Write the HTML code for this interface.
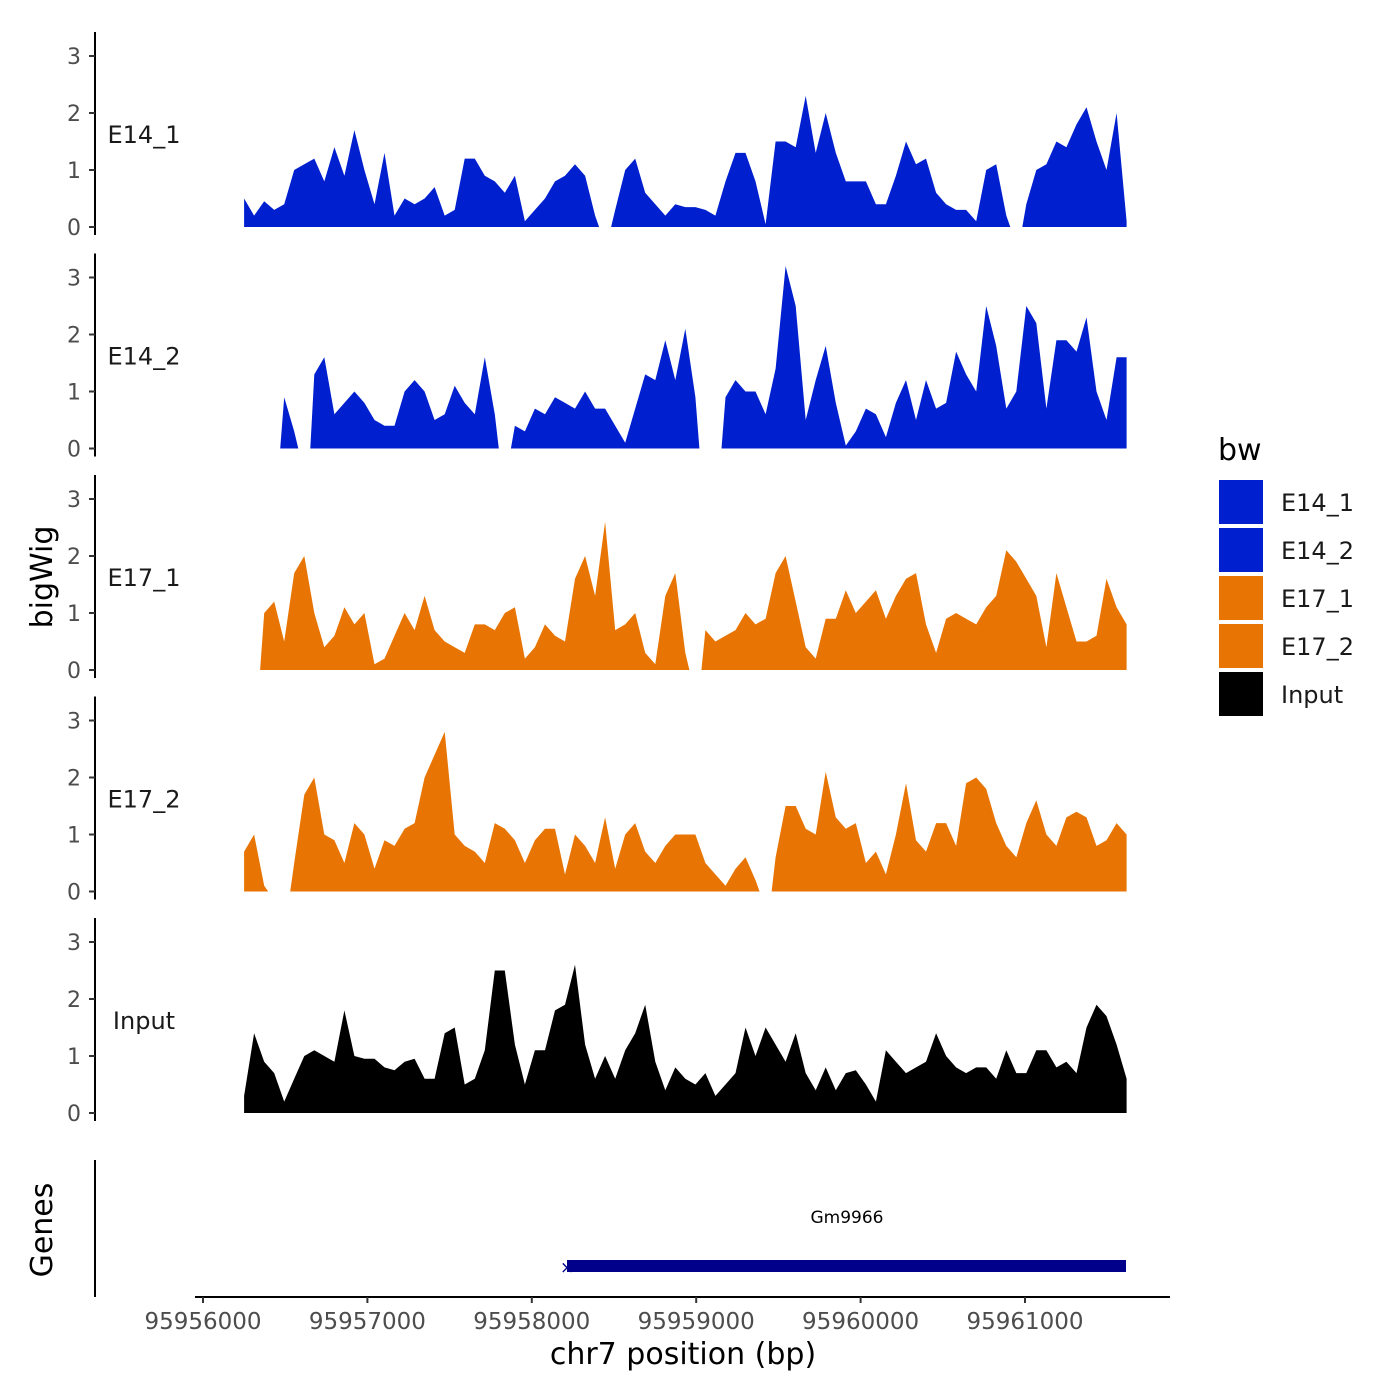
<!DOCTYPE html>
<html><head><meta charset="utf-8"><style>
body{margin:0;background:#fff;}
svg{display:block;font-family:"DejaVu Sans","Liberation Sans",sans-serif;}
</style></head><body>
<svg id="chart" width="1400" height="1400" viewBox="0 0 1400 1400">
<g id="panels"></g>
<g id="xaxis"></g>
<text x="52" y="577" font-size="30" text-anchor="middle" transform="rotate(-90 52 577)">bigWig</text>
<text x="52" y="1230" font-size="30" text-anchor="middle" transform="rotate(-90 52 1230)">Genes</text>
<line x1="95" y1="1160" x2="95" y2="1297" stroke="#000" stroke-width="2"/>
<rect x="567" y="1260" width="559" height="12" fill="#00008B"/>
<text x="560" y="1273" font-size="17" fill="#00008B">×</text>
<text x="847" y="1223" font-size="17" text-anchor="middle">Gm9966</text>
<g id="legend"></g>
</svg>
<script>
const tracks = ["E14_1","E14_2","E17_1","E17_2","Input"];
const colors = ["#0020D0","#0020D0","#E87503","#E87503","#000000"];
const startBp = 95956250;
const stepBp = 61;
const e14_1 = [0.5,0.2,0.45,0.3,0.4,1.0,1.1,1.2,0.8,1.4,0.9,1.7,1.0,0.4,1.3,0.2,0.5,0.4,0.5,0.7,0.2,0.3,1.2,1.2,0.9,0.8,0.6,0.9,0.1,0.3,0.5,0.8,0.9,1.1,0.9,0.2,null,0.3,1.0,1.2,0.6,0.4,0.2,0.4,0.35,0.35,0.3,0.2,0.8,1.3,1.3,0.8,0.05,1.5,1.5,1.4,2.3,1.3,2.0,1.3,0.8,0.8,0.8,0.4,0.4,0.9,1.5,1.1,1.2,0.6,0.4,0.3,0.3,0.1,1.0,1.1,0.2,null,0.4,1.0,1.1,1.5,1.4,1.8,2.1,1.5,1.0,2.0,0.1];
const e14_2 = [null,null,null,null,0.9,0.3,null,1.3,1.6,0.6,0.8,1.0,0.8,0.5,0.4,0.4,1.0,1.2,1.0,0.5,0.6,1.1,0.8,0.6,1.6,0.6,null,0.4,0.3,0.7,0.6,0.9,0.8,0.7,1.0,0.7,0.7,0.4,0.1,0.7,1.3,1.2,1.9,1.2,2.1,0.9,null,null,0.9,1.2,1.0,1.0,0.6,1.4,3.2,2.5,0.5,1.2,1.8,0.8,0.05,0.3,0.7,0.6,0.2,0.8,1.2,0.5,1.2,0.7,0.8,1.7,1.3,1.0,2.5,1.8,0.7,1.0,2.5,2.2,0.7,1.9,1.9,1.7,2.3,1.0,0.5,1.6,1.6];
const e17_1 = [null,null,1.0,1.2,0.5,1.7,2.0,1.0,0.4,0.6,1.1,0.8,1.0,0.1,0.2,0.6,1.0,0.7,1.3,0.7,0.5,0.4,0.3,0.8,0.8,0.7,1.0,1.1,0.2,0.4,0.8,0.6,0.5,1.6,2.0,1.3,2.6,0.7,0.8,1.0,0.3,0.1,1.3,1.7,0.3,null,0.7,0.5,0.6,0.7,1.0,0.8,0.9,1.7,2.0,1.2,0.4,0.2,0.9,0.9,1.4,1.0,1.2,1.4,0.9,1.3,1.6,1.7,0.8,0.3,0.9,1.0,0.9,0.8,1.1,1.3,2.1,1.9,1.6,1.3,0.4,1.7,1.1,0.5,0.5,0.6,1.6,1.1,0.8];
const e17_2 = [0.7,1.0,0.1,null,null,0.5,1.7,2.0,1.0,0.9,0.5,1.2,1.0,0.4,0.9,0.8,1.1,1.2,2.0,2.4,2.8,1.0,0.8,0.7,0.5,1.2,1.1,0.9,0.5,0.9,1.1,1.1,0.3,1.0,0.8,0.5,1.3,0.4,1.0,1.2,0.7,0.5,0.8,1.0,1.0,1.0,0.5,0.3,0.1,0.4,0.6,0.2,null,0.6,1.5,1.5,1.1,1.0,2.1,1.3,1.1,1.2,0.5,0.7,0.3,1.0,1.9,0.9,0.7,1.2,1.2,0.8,1.9,2.0,1.8,1.2,0.8,0.6,1.2,1.6,1.0,0.8,1.3,1.4,1.3,0.8,0.9,1.2,1.0];
const input = [0.3,1.4,0.9,0.7,0.2,0.6,1.0,1.1,1.0,0.9,1.8,1.0,0.95,0.95,0.8,0.75,0.9,0.95,0.6,0.6,1.4,1.5,0.5,0.6,1.1,2.5,2.5,1.2,0.5,1.1,1.1,1.8,1.9,2.6,1.2,0.6,1.0,0.6,1.1,1.4,1.9,0.9,0.4,0.8,0.6,0.5,0.7,0.3,0.5,0.7,1.5,1.0,1.5,1.2,0.9,1.4,0.7,0.4,0.8,0.4,0.7,0.75,0.5,0.2,1.1,0.9,0.7,0.8,0.9,1.4,1.0,0.8,0.7,0.8,0.8,0.6,1.1,0.7,0.7,1.1,1.1,0.8,0.9,0.7,1.5,1.9,1.7,1.2,0.6];
const series = [e14_1,e14_2,e17_1,e17_2,input];
const yTicks = [0,1,2,3];
const xTicks = [95956000,95957000,95958000,95959000,95960000,95961000];

const NS="http://www.w3.org/2000/svg";
function mk(t,a,p){const e=document.createElementNS(NS,t);for(const k in a)e.setAttribute(k,a[k]);p.appendChild(e);return e;}
const xS = bp => 203 + (bp-95956000)*0.1644;
const panelBase = i => 227 + i*221.5;
const yS = (v,i) => panelBase(i) - v*57;

const panels=document.getElementById('panels');
series.forEach((vals,i)=>{
  const g=mk('g',{},panels);
  
  
  const b=panelBase(i);
  const ax=mk('line',{x1:95,y1:b-195,x2:95,y2:b+8,stroke:'#000','stroke-width':2},g);
  
  
  yTicks.forEach(t=>{
    const tk=mk('line',{x1:89,y1:yS(t,i),x2:95,y2:yS(t,i),stroke:'#333','stroke-width':2},g);
    
    
    const tl=mk('text',{x:81,y:yS(t,i)+8,'font-size':22,fill:'#4d4d4d','text-anchor':'end'},g);
    tl.textContent=t;
    
    
  });
  let seg=[];const segs=[];
  vals.forEach((v,j)=>{ if(v===null){ if(seg.length)segs.push(seg); seg=[]; } else seg.push([j,v]); });
  if(seg.length)segs.push(seg);
  segs.forEach(s=>{
    const j0=s[0][0], j1=s[s.length-1][0];
    const lead = (j0>0 && vals[j0-1]===null) ? j0-0.4 : j0;
    const tail = (j1<vals.length-1 && vals[j1+1]===null) ? j1+0.4 : j1;
    let d='M'+xS(startBp+lead*stepBp).toFixed(1)+','+b;
    s.forEach(p=>{d+='L'+xS(startBp+p[0]*stepBp).toFixed(1)+','+yS(p[1],i).toFixed(1);});
    d+='L'+xS(startBp+tail*stepBp).toFixed(1)+','+b+'Z';
    const a=mk('path',{d:d,fill:colors[i]},g);
    
    
  });
  const lab=mk('text',{x:144,y:b-84,'font-size':24,fill:'#1a1a1a','text-anchor':'middle'},g);
  lab.textContent=tracks[i];
  
  
});

const xa=document.getElementById('xaxis');
const xl=mk('line',{x1:195,y1:1297,x2:1170,y2:1297,stroke:'#000','stroke-width':2},xa);


xTicks.forEach(t=>{
  const tk=mk('line',{x1:xS(t),y1:1297,x2:xS(t),y2:1303,stroke:'#333','stroke-width':2},xa);
  
  
  const tl=mk('text',{x:xS(t),y:1329,'font-size':23,fill:'#4d4d4d','text-anchor':'middle'},xa);
  tl.textContent=t;
  
  
});
const xt=mk('text',{x:683,y:1364,'font-size':30,'text-anchor':'middle'},xa);
xt.textContent='chr7 position (bp)';



const lg=document.getElementById('legend');
const lt=mk('text',{x:1218,y:460,'font-size':30},lg);
lt.textContent='bw';


tracks.forEach((t,i)=>{
  const y=480+i*48;
  const r=mk('rect',{x:1219,y:y,width:44,height:44,fill:colors[i]},lg);
  
  
  const tx=mk('text',{x:1281,y:y+31,'font-size':24,fill:'#1a1a1a'},lg);
  tx.textContent=t;
  
  
});
</script>
</body></html>
